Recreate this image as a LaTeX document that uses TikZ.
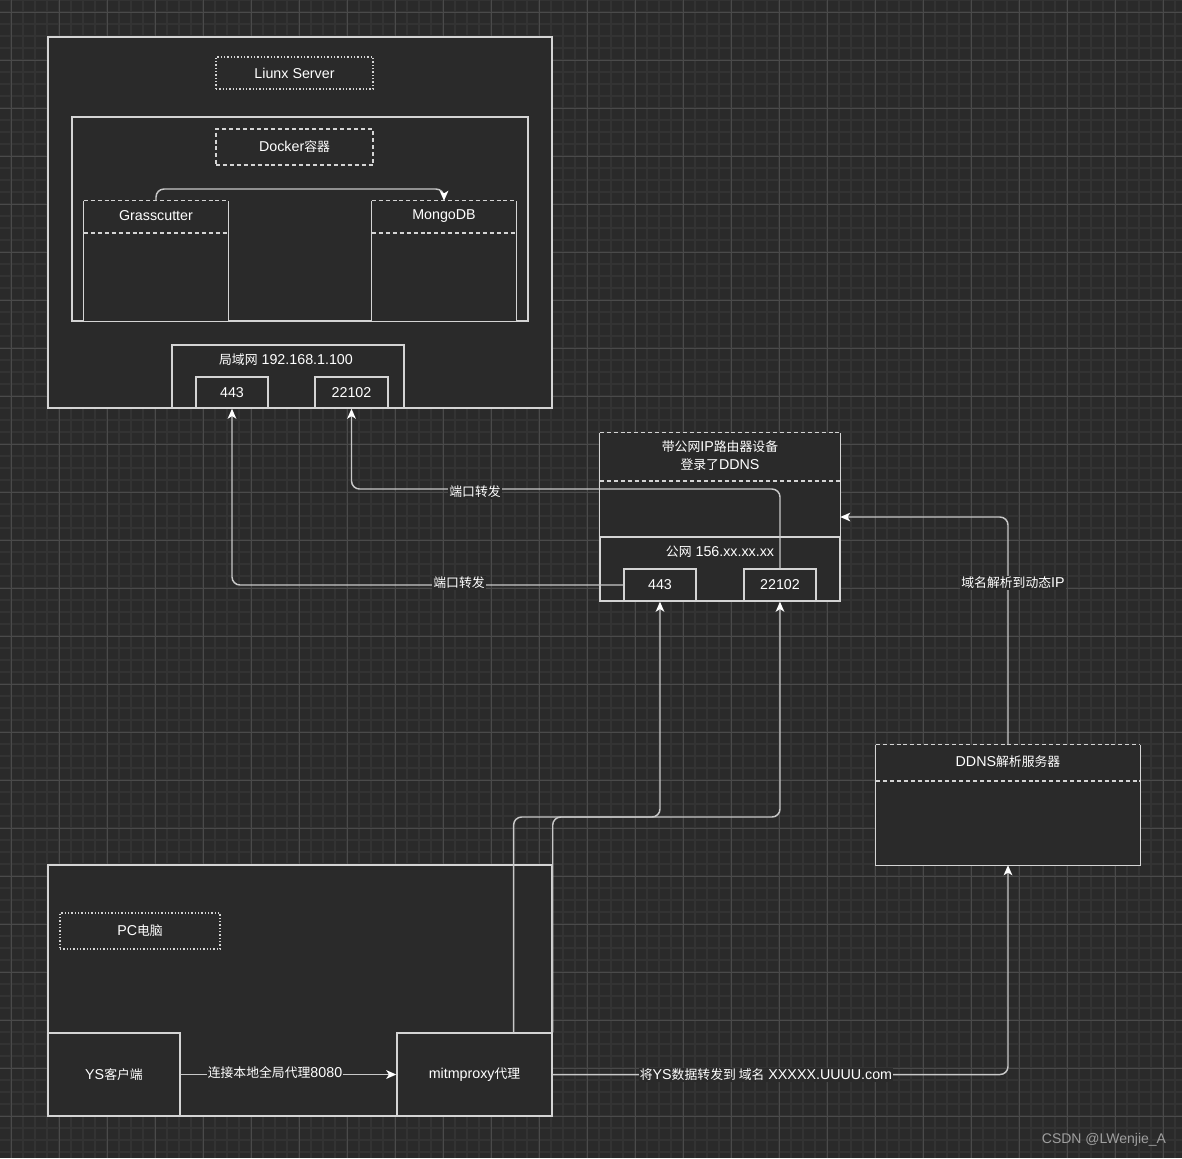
\documentclass[tikz,border=0pt]{standalone}
\usepackage{fontspec}
\setmainfont{Liberation Sans}
\newfontfamily\cjk[Scale=0.9]{Noto Sans CJK SC}
\newcommand\zh[1]{{\cjk #1}}
\usetikzlibrary{fit,arrows.meta,calc}
\definecolor{bg}{HTML}{2A2A2A}
\definecolor{gminor}{HTML}{333333}
\definecolor{gmajor}{HTML}{4A4A4A}
\definecolor{ln}{HTML}{D4D4D4}
\definecolor{edgec}{HTML}{C8C8C8}
\begin{document}
\begin{tikzpicture}[x=0.75pt,y=-0.75pt,
  font=\fontsize{10.7}{13}\selectfont,
  every node/.style={text=white},
  box/.style={fit={#1}, inner sep=0pt, draw=ln, line width=1.1pt, fill=bg},
  plain/.style={fit={#1}, inner sep=0pt, fill=bg},
  sw/.style={draw=ln, line width=1.1pt},
  swd/.style={draw=ln, line width=1.1pt, dash pattern=on 3pt off 2.2pt},
  dotbox/.style={fit={#1}, inner sep=0pt, draw=ln, line width=0.9pt, dash pattern=on 0.9pt off 1.6pt},
  dashbox/.style={fit={#1}, inner sep=0pt, draw=ln, line width=1.1pt, dash pattern=on 3pt off 2.2pt},
  edge/.style={draw=edgec, line width=1.1pt, rounded corners=6pt, -{Stealth[length=7.5pt,width=6.5pt,inset=2pt,fill=white,color=white]}},
  lbl/.style={fill=bg, inner sep=0.8pt}
]
\useasboundingbox (0,0) rectangle (1182,1158);
\fill[bg] (0,0) rectangle (1182,1158);
% grid
\foreach \i in {0,...,99} {\draw[gminor, line width=1.4pt] (-0.7+12*\i,0) -- ++(0,1158);}
\foreach \i in {0,...,97} {\draw[gminor, line width=1.4pt] (0,0.3+12*\i) -- ++(1182,0);}
\foreach \i in {0,...,24} {\draw[gmajor, line width=0.8pt] (11.3+48*\i,0) -- ++(0,1158);}
\foreach \i in {0,...,24} {\draw[gmajor, line width=0.8pt] (0,12.3+48*\i) -- ++(1182,0);}

% ---------- Linux server ----------
\node[box={(48,37) (552,408)}] (linux) {};
\node[dotbox={(216,57) (373,89)}] (linuxb) {};
\node (linuxt) at (linuxb.center) {Liunx Server};
\node[box={(72,117) (528,321)}] (docker) {};
\node[dashbox={(216,129) (373,165)}] (dockerb) {};
\node (dockert) at (dockerb.center) {Docker\zh{容器}};
% Grasscutter swimlane
\node[plain={(84,201) (228,321)}] (gc) {};
\draw[sw] (gc.north west) -- (gc.south west) -- (gc.south east) -- (gc.north east);
\draw[swd] (gc.north west) -- (gc.north east);
\draw[swd] (84,233) -- (228,233);
\node (gct) at (156,216) {Grasscutter};
% MongoDB swimlane
\node[plain={(372,201) (516,321)}] (mongo) {};
\draw[sw] (mongo.north west) -- (mongo.south west) -- (mongo.south east) -- (mongo.north east);
\draw[swd] (mongo.north west) -- (mongo.north east);
\draw[swd] (372,233) -- (516,233);
\node (mongot) at (444,216) {MongoDB};
% LAN
\node[box={(172,345) (404,408)}] (lan) {};
\node (lant) at (286,360) {\zh{局域网} 192.168.1.100};
\node[box={(196,377) (268,408)}] (l443) {};
\node at (l443.center) {443};
\node[box={(315,377) (388,408)}] (l22102) {};
\node at (l22102.center) {22102};

% ---------- Router ----------
\node[plain={(600,433) (840,601)}] (router) {};
\draw[sw] (router.north west) -- (router.south west) -- (router.south east) -- (router.north east);
\draw[swd] (router.north west) -- (router.north east);
\draw[swd] (600,481) -- (840,481);
\node[align=center, font=\fontsize{10.7}{13.5}\selectfont] (routert) at (720,456) {\zh{带公网}IP\zh{路由器设备}\\\zh{登录了}DDNS};
\node[box={(600,537) (840,601)}] (wan) {};
\node (want) at (720,552) {\zh{公网} 156.xx.xx.xx};
\node[box={(624,569) (696,601)}] (r443) {};
\node at (r443.center) {443};
\node[box={(744,569) (816,601)}] (r22102) {};
\node at (r22102.center) {22102};

% ---------- DDNS ----------
\node[plain={(876,745) (1140,865)}] (ddns) {};
\draw[sw] (ddns.north west) -- (ddns.south west) -- (ddns.south east) -- (ddns.north east);
\draw[swd] (ddns.north west) -- (ddns.north east);
\draw[swd] (876,781) -- (1140,781);
\node (ddnst) at (1008,762) {DDNS\zh{解析服务器}};

% ---------- PC ----------
\node[box={(48,865) (552,1116)}] (pc) {};
\node[dotbox={(60,913) (220,949)}] (pcb) {};
\node (pct) at (pcb.center) {PC\zh{电脑}};
\node[box={(48,1033) (180,1116)}] (ys) {};
\node at (ys.center) {YS\zh{客户端}};
\node[box={(397,1033) (552,1116)}] (mitm) {};
\node at (mitm.center) {mitmproxy\zh{代理}};

% ---------- connectors ----------
\coordinate (k0) at (300,189);
\draw[edge] (gc.north) |- (k0) -| (mongo.north);

\coordinate (k1) at (500,489);
\draw[edge] (r22102.north) |- (k1) -| (l22102.south);
\draw[edge] (r443.west) -| (l443.south);

\coordinate (m1) at ($(mitm.north west)!0.75!(mitm.north east)$);
\coordinate (k2) at (590,817);
\coordinate (k3) at (700,817);
\draw[edge] (m1) |- (k2) -| (r443.south);
\draw[edge] (mitm.north east) |- (k3) -| (r22102.south);

\draw[edge] (mitm.east) -| (ddns.south);
\draw[edge] (ddns.north) |- (router.east);
\draw[edge] (ys.east) -- (mitm.west);

% labels
\node[lbl] (e1) at (475,492) {\zh{端口转发}};
\node[lbl] (e2) at (459,583) {\zh{端口转发}};
\node[lbl] (e3) at (1013,583) {\zh{域名解析到动态}IP};
\node[lbl] (e4) at (275,1073) {\zh{连接本地全局代理}8080};
\node[lbl] (e5) at (766,1075) {\zh{将}YS\zh{数据转发到 域名} XXXXX.UUUU.com};

\node[text=white!55!bg, font=\fontsize{10.5}{12}\selectfont] (wm) at (1104,1140) {CSDN @LWenjie\_A};
\end{tikzpicture}
\end{document}
